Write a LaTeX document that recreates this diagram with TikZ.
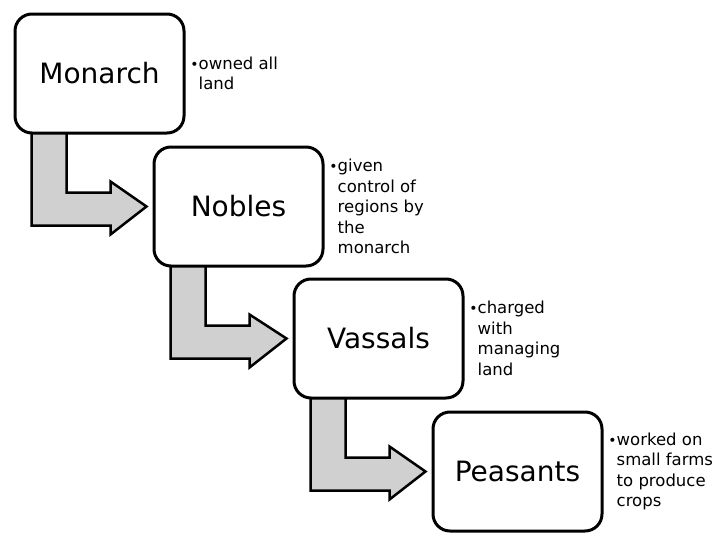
\documentclass[tikz,border=0pt]{standalone}
\usepackage{fontspec}
\setmainfont{DejaVu Sans}
\usetikzlibrary{calc,backgrounds}
\definecolor{arrowgray}{RGB}{208,208,208}
\tikzset{
  level/.style={draw, line width=3pt, rounded corners=17pt, minimum width=169pt,
    minimum height=119pt, inner sep=0pt, fill=white,
    font=\fontsize{28}{34}\selectfont},
  note/.style={anchor=west, align=left, inner sep=0pt,
    font=\fontsize{16.5}{20.5}\selectfont},
  bent/.style={draw, line width=2.5pt, fill=arrowgray, line join=miter}
}
\newcommand\mybullet{\llap{{\fontsize{14}{14}\selectfont•}}}
\newcommand\bentarrow[2]{%
  \draw[bent] ($(#1.south west)+(18,-4)$) -- ($(#1.south west)+(18,91)$)
    -- ($(#1.south west)+(97,91)$) -- ($(#1.south west)+(97,100)$)
    -- ($(#2.west)+(-6,0)$)
    -- ($(#1.south west)+(97,47)$) -- ($(#1.south west)+(97,58)$)
    -- ($(#1.south west)+(53,58)$) -- ($(#1.south west)+(53,-4)$) -- cycle;}
\begin{document}
\begin{tikzpicture}[x=1pt,y=-1pt]
\useasboundingbox (0,0) rectangle (716,541);
\node[level] (m) at (99.5,73.5) {Monarch};
\node[level] (nb) at (238.5,206.5) {Nobles};
\node[level] (v) at (378.5,338.5) {Vassals};
\node[level] (p) at (517.5,471.5) {Peasants};
\begin{pgfonlayer}{background}
\fill[white] (0,0) rectangle (716,541);
\bentarrow{m}{nb}
\bentarrow{nb}{v}
\bentarrow{v}{p}
\end{pgfonlayer}
\node[note] (t1) at ($(m.east)+(13,0)$) {\mybullet owned all\\land};
\node[note] (t2) at ($(nb.east)+(13,0)$) {\mybullet given\\control of\\regions by\\the\\monarch};
\node[note] (t3) at ($(v.east)+(13,0)$) {\mybullet charged\\with\\managing\\land};
\node[note] (t4) at ($(p.east)+(13,0)$) {\mybullet worked on\\small farms\\to produce\\crops};
\end{tikzpicture}
\end{document}
